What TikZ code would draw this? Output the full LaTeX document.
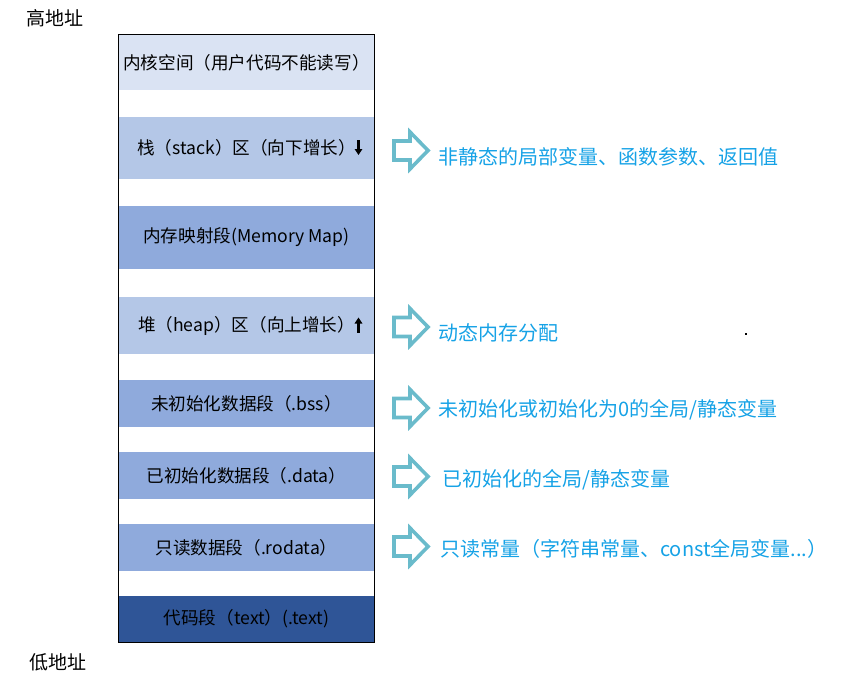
\documentclass[tikz,border=0pt]{standalone}
\usepackage{fontspec}
\setmainfont{Noto Sans CJK SC}
\usetikzlibrary{arrows.meta}
\definecolor{kernc}{HTML}{DAE3F3}
\definecolor{lightc}{HTML}{B4C7E7}
\definecolor{midc}{HTML}{8FAADC}
\definecolor{darkc}{HTML}{2F5597}
\definecolor{arrowc}{HTML}{6ABBCB}
\definecolor{notec}{HTML}{16A2E6}
\begin{document}
\begin{tikzpicture}[x=1pt,y=-1pt,
  segment/.style={inner sep=0pt, minimum width=255pt, draw=none, text=black,
                  font=\fontsize{17.6}{20}\selectfont},
  notelabel/.style={anchor=west, inner sep=0pt, text=notec,
                  font=\fontsize{20}{24}\selectfont},
  addr/.style={inner sep=0pt, font=\fontsize{19}{22}\selectfont},
  blockarrow/.pic={\draw[arrowc, line width=3.6pt]
      (0,-9.5) -- (16,-9.5) -- (16,-18.5) -- (34,0) -- (16,18.5) -- (16,9.5) -- (0,9.5) -- cycle;},
  growarrow/.style={line width=2.2pt, -{Triangle[width=7.5pt,length=6pt]}}
]
\useasboundingbox (0,0) rectangle (851,680);

% address labels
\node[addr] (high) at (55.5,18.5) {高地址};
\node[addr] (low) at (58,662) {低地址};

% segments
\node[segment, fill=kernc, minimum height=55pt] (kernel) at (246.5,62.5) {内核空间（用户代码不能读写）\hspace{3pt}};
\node[segment, fill=lightc, minimum height=62pt] (stack) at (246.5,148) {栈（stack）区（向下增长）\hspace{10pt}};
\node[segment, fill=midc, minimum height=63pt] (mmap) at (246.5,237.5) {内存映射段(Memory Map)};
\node[segment, fill=lightc, minimum height=57pt] (heap) at (246.5,325.5) {堆（heap）区（向上增长）\hspace{10pt}};
\node[segment, fill=midc, minimum height=47pt] (bss) at (246.5,403.5) {未初始化数据段（.bss）};
\node[segment, fill=midc, minimum height=47pt] (data) at (246.5,475.5) {已初始化数据段（.data）};
\node[segment, fill=midc, minimum height=47pt] (rodata) at (246.5,547.5) {只读数据段（.rodata）};
\node[segment, fill=darkc, minimum height=46pt] (code) at (246.5,619) {代码段（text）(.text)};

% outer frame
\draw[line width=1.3pt] (kernel.north west) rectangle (code.south east);

% growth arrows
\draw[growarrow] ([xshift=112pt,yshift=8pt]stack.center) -- ([xshift=112pt,yshift=-7pt]stack.center);
\draw[growarrow] ([xshift=112pt,yshift=-7pt]heap.center) -- ([xshift=112pt,yshift=8pt]heap.center);

% block arrows
\pic at (394,150.5) {blockarrow};
\pic at (394,327) {blockarrow};
\pic at (394,408) {blockarrow};
\pic at (394,476.5) {blockarrow};
\pic at (394,546.5) {blockarrow};

% notes
\node[notelabel] (nstack) at (438,156.5) {非静态的局部变量、函数参数、返回值};
\node[notelabel] (nheap) at (438,333) {动态内存分配};
\node[notelabel] (nbss) at (438,410) {未初始化或初始化为0的全局/静态变量};
\node[notelabel] (ndata) at (442,479.5) {已初始化的全局/静态变量};
\node[notelabel] (nrodata) at (440,548.5) {只读常量（字符串常量、const全局变量...）};

% stray dot
\fill[black] (745,333) rectangle (747,335);
\end{tikzpicture}
\end{document}
